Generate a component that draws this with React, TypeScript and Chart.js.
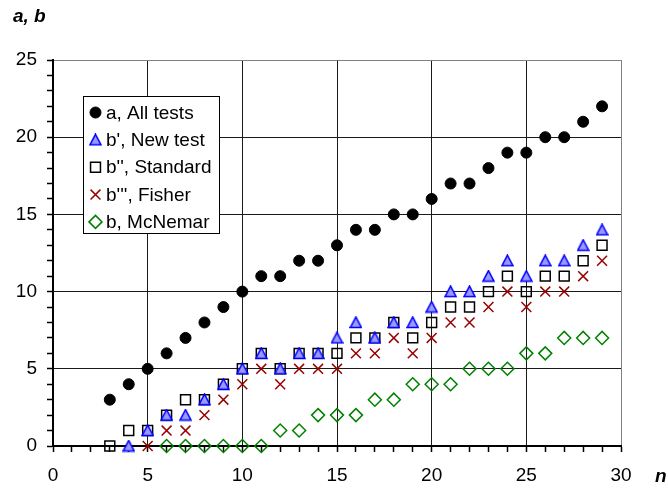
import React, { useEffect, useRef } from 'react';
import { Chart, registerables } from 'chart.js';
import { drawPoint } from 'chart.js/helpers';

Chart.register(...registerables);

const nValues = [3, 4, 5, 6, 7, 8, 9, 10, 11, 12, 13, 14, 15, 16, 17, 18, 19, 20, 21, 22, 23, 24, 25, 26, 27, 28, 29];
const allTests = [3, 4, 5, 6, 7, 8, 9, 10, 11, 11, 12, 12, 13, 14, 14, 15, 15, 16, 17, 17, 18, 19, 19, 20, 20, 21, 22];
const newTest = [null, 0, 1, 2, 2, 3, 4, 5, 6, 5, 6, 6, 7, 8, 7, 8, 8, 9, 10, 10, 11, 12, 11, 12, 12, 13, 14];
const standard = [0, 1, 1, 2, 3, 3, 4, 5, 6, 5, 6, 6, 6, 7, 7, 8, 7, 8, 9, 9, 10, 11, 10, 11, 11, 12, 13];
const fisher = [null, null, 0, 1, 1, 2, 3, 4, 5, 4, 5, 5, 5, 6, 6, 7, 6, 7, 8, 8, 9, 10, 9, 10, 10, 11, 12];
const mcnemar = [null, null, null, 0, 0, 0, 0, 0, 0, 1, 1, 2, 2, 2, 3, 3, 4, 4, 4, 5, 5, 5, 6, 6, 7, 7, 7];

const seriesLabels = ['a, All tests', "b', New test", "b'', Standard", "b''', Fisher", 'b, McNemar'];
const xTickValues = [0, 5, 10, 15, 20, 25, 30];
const yTickValues = [0, 5, 10, 15, 20, 25];
const yTitle = 'a, b';
const xTitle = 'n';

const FONT = '"Liberation Sans", Arial, sans-serif';

function toPoints(values: (number | null)[]) {
  const pts: { x: number; y: number }[] = [];
  values.forEach((v, i) => {
    if (v !== null) pts.push({ x: nValues[i], y: v });
  });
  return pts;
}

function makeTriangle(): HTMLCanvasElement {
  const c = document.createElement('canvas');
  c.width = 13;
  c.height = 13;
  const g = c.getContext('2d')!;
  g.beginPath();
  g.moveTo(6.5, 1);
  g.lineTo(12, 11.5);
  g.lineTo(1, 11.5);
  g.closePath();
  g.fillStyle = '#9999ff';
  g.fill();
  g.strokeStyle = '#0000ff';
  g.lineWidth = 1.6;
  g.lineJoin = 'miter';
  g.stroke();
  return c;
}

const legendPlugin = {
  id: 'boxLegend',
  afterDraw(chart: any) {
    const ctx = chart.ctx;
    ctx.save();
    ctx.fillStyle = '#ffffff';
    ctx.fillRect(83, 96, 137, 138);
    ctx.strokeStyle = '#000000';
    ctx.lineWidth = 1;
    ctx.strokeRect(83.5, 96.5, 136, 137);
    ctx.font = `19px ${FONT}`;
    ctx.textBaseline = 'middle';
    ctx.textAlign = 'left';
    chart.data.datasets.forEach((ds: any, i: number) => {
      const y = 112.5 + i * 27.35;
      ctx.save();
      ctx.fillStyle = ds.backgroundColor;
      ctx.strokeStyle = ds.borderColor;
      ctx.lineWidth = ds.borderWidth;
      drawPoint(ctx, { pointStyle: ds.pointStyle, radius: ds.pointRadius, rotation: 0, borderWidth: ds.borderWidth }, 95.5, y);
      ctx.restore();
      ctx.fillStyle = '#000000';
      ctx.fillText(ds.label, 106, y + 1);
    });
    ctx.font = `italic bold 19px ${FONT}`;
    ctx.textBaseline = 'alphabetic';
    ctx.fillText(yTitle, 13, 22);
    ctx.fillText(xTitle, 655, 482);
    ctx.restore();
  },
};

const gridColor = (isMax: boolean, major: boolean) =>
  isMax ? '#808080' : major ? '#1a1a1a' : 'rgba(0,0,0,0)';

export default function App() {
  const ref = useRef<HTMLCanvasElement | null>(null);

  useEffect(() => {
    if (!ref.current) return;
    const tri = makeTriangle();
    const chart = new Chart(ref.current, {
      type: 'scatter',
      data: {
        datasets: [
          {
            label: seriesLabels[0],
            data: toPoints(allTests),
            pointStyle: 'circle',
            pointRadius: 5.5,
            backgroundColor: '#000000',
            borderColor: '#000000',
            borderWidth: 1,
            clip: false,
          },
          {
            label: seriesLabels[1],
            data: toPoints(newTest),
            pointStyle: tri,
            pointRadius: 6.5,
            backgroundColor: '#9999ff',
            borderColor: '#0000ff',
            borderWidth: 1.5,
            clip: false,
          },
          {
            label: seriesLabels[2],
            data: toPoints(standard),
            pointStyle: 'rect',
            pointRadius: 7,
            backgroundColor: 'rgba(255,255,255,0)',
            borderColor: '#000000',
            borderWidth: 1.5,
            clip: false,
          },
          {
            label: seriesLabels[3],
            data: toPoints(fisher),
            pointStyle: 'crossRot',
            pointRadius: 7,
            backgroundColor: 'rgba(0,0,0,0)',
            borderColor: '#990000',
            borderWidth: 1.5,
            clip: false,
          },
          {
            label: seriesLabels[4],
            data: toPoints(mcnemar),
            pointStyle: 'rectRot',
            pointRadius: 6.5,
            backgroundColor: 'rgba(255,255,255,0)',
            borderColor: '#008000',
            borderWidth: 1.5,
            clip: false,
          },
        ] as any,
      },
      options: {
        animation: false,
        responsive: false,
        maintainAspectRatio: false,
        layout: { padding: { top: 60, right: 47, left: 0, bottom: 0 } },
        plugins: {
          legend: { display: false },
          tooltip: { enabled: false },
        },
        elements: { point: { hoverRadius: 6 } },
        scales: {
          x: {
            type: 'linear',
            min: 0,
            max: 30,
            afterFit(scale: any) {
              scale.height = 42;
            },
            ticks: {
              stepSize: 1,
              autoSkip: false,
              maxRotation: 0,
              padding: 12,
              color: '#000000',
              font: { family: FONT, size: 19 },
              callback: (v: any) => (xTickValues.includes(Number(v)) ? String(v) : ''),
            },
            grid: {
              drawTicks: true,
              tickLength: 6,
              tickColor: '#000000',
              tickWidth: 1.5,
              lineWidth: 1,
              color: (c: any) => {
                const v = c.tick ? c.tick.value : 0;
                return gridColor(v === 30, v % 5 === 0);
              },
            },
            border: { display: true, color: '#000000', width: 2 },
          },
          y: {
            type: 'linear',
            min: 0,
            max: 25,
            afterFit(scale: any) {
              scale.width = 53;
            },
            ticks: {
              stepSize: 1,
              autoSkip: false,
              padding: 10,
              color: '#000000',
              font: { family: FONT, size: 19 },
              callback: (v: any) => (yTickValues.includes(Number(v)) ? String(v) : ''),
            },
            grid: {
              drawTicks: true,
              tickLength: 6,
              tickColor: '#000000',
              tickWidth: 1.5,
              lineWidth: 1,
              color: (c: any) => {
                const v = c.tick ? c.tick.value : 0;
                return gridColor(v === 25, v % 5 === 0);
              },
            },
            border: { display: true, color: '#000000', width: 2 },
          },
        },
      } as any,
      plugins: [legendPlugin],
    });
    return () => chart.destroy();
  }, []);

  return (
    <div style={{ position: 'fixed', left: 0, top: 0, width: 668, height: 488, background: '#ffffff' }}>
      <canvas ref={ref} width={668} height={488} style={{ display: 'block', width: 668, height: 488 }} />
    </div>
  );
}
